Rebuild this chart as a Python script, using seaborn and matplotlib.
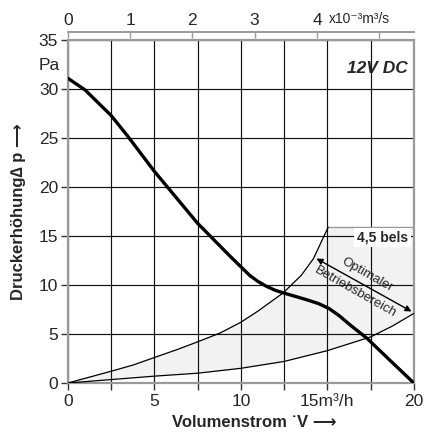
import numpy as np
import pandas as pd
import seaborn as sns
import matplotlib.pyplot as plt

# Kennlinie des Lüfters (m3/h -> Pa)
fan_q = [0, 1, 2.5, 3.5, 5, 7.5, 9.4, 10.5, 11, 11.5, 12, 12.45, 13.8, 14.5, 15.1, 15.7,
         16.3, 17.3, 18.6, 20]
fan_p = [31.1, 29.9, 27.3, 25.1, 21.6, 16.3, 12.9, 11.0, 10.35, 9.85, 9.45, 9.2, 8.5, 8.1,
         7.6, 6.85, 5.95, 4.55, 2.35, 0]

# Grenzen des optimalen Betriebsbereichs
upper_q = [0, 2.5, 3.8, 5, 6.3, 7.5, 8.8, 10, 11, 12.45, 13.5, 14.2, 14.65, 15.05]
upper_p = [0, 1.2, 1.85, 2.6, 3.4, 4.2, 5.1, 6.2, 7.35, 9.2, 11.0, 12.7, 14.4, 15.9]
lower_q = [0, 2.5, 5, 7.5, 10, 12.5, 15, 17.5, 18.75, 20]
lower_p = [0, 0.35, 0.7, 1.0, 1.5, 2.2, 3.3, 4.7, 5.8, 7.1]
area_top = 15.95

x_ticks = [0, 5, 10, 15, 20]
x_labels = ['0', '5', '10', '15m³/h', '20']
x_minor = [2.5, 7.5, 12.5, 17.5]
y_ticks = [0, 5, 10, 15, 20, 25, 30, 35]
top_ticks = [0, 1, 2, 3, 4, 5]
top_labels = ['0', '1', '2', '3', '4', '']

sns.set_style('white')
plt.rcParams['font.family'] = ['Liberation Sans', 'DejaVu Sans']

fig = plt.figure(figsize=(4.24, 4.32), dpi=100)
ax = fig.add_axes([0.160, 0.1134, 0.816, 0.794])

spine_gray = '#9a9a9a'

# shaded area between the two limit curves
poly_q = lower_q + [20] + upper_q[::-1]
poly_p = lower_p + [area_top] + upper_p[::-1]
ax.fill(poly_q, poly_p, color='#f2f2f2', lw=0, zorder=0)
ax.plot([15.05, 20], [area_top, area_top], color=spine_gray, lw=1, zorder=1)

ax.set_xlim(0, 20)
ax.set_ylim(0, 35)
ax.set_xticks(x_ticks)
ax.set_xticklabels(x_labels)
ax.set_xticks(x_minor, minor=True)
ax.set_yticks(y_ticks)

ax.grid(True, which='both', color='#111111', lw=0.85, zorder=1)
ax.set_axisbelow(True)
# a few grid lines are lighter in the original
for t in ax.xaxis.get_minor_ticks():
    if abs(t.get_loc() - 2.5) < 0.01:
        t.gridline.set_color(spine_gray)
for t in ax.yaxis.get_major_ticks():
    if abs(t.get_loc() - 5) < 0.01:
        t.gridline.set_color(spine_gray)

df_up = pd.DataFrame({'q': upper_q, 'p': upper_p})
df_lo = pd.DataFrame({'q': lower_q, 'p': lower_p})
df_fan = pd.DataFrame({'q': fan_q, 'p': fan_p})
sns.lineplot(data=df_up, x='q', y='p', ax=ax, color='black', lw=0.9, sort=False, zorder=3)
sns.lineplot(data=df_lo, x='q', y='p', ax=ax, color='black', lw=0.9, sort=False, zorder=3)
sns.lineplot(data=df_fan, x='q', y='p', ax=ax, color='black', lw=2.4, sort=False, zorder=4)

for s in ax.spines.values():
    s.set_visible(True)
    s.set_color(spine_gray)
    s.set_linewidth(1.6)

ax.tick_params(which='both', direction='out', length=5, width=1, color='#333333',
               labelsize=12.5, pad=2, bottom=True, left=True)
ax.tick_params(axis='x', pad=3)

# obere Achse in 10^-3 m3/s
sec = ax.secondary_xaxis(1.022, functions=(lambda q: q / 3.6, lambda s: s * 3.6))
sec.set_xticks(top_ticks)
sec.set_xticklabels(top_labels)
sec.tick_params(direction='in', length=4, width=1, color=spine_gray, labelsize=12.5, pad=3)
sec.spines['top'].set_color(spine_gray)
sec.spines['top'].set_linewidth(1.4)
ax.text(15.1, 1.062, 'x10⁻³m³/s', transform=ax.get_xaxis_transform(), fontsize=10,
        ha='left', va='center')

ax.text(-0.45, 32.4, 'Pa', fontsize=12.5, ha='right', va='center')
ax.text(19.65, 32.1, '12V DC', fontsize=12.5, fontweight='bold', fontstyle='italic',
        ha='right', va='center')

ax.text(18.2, 14.85, '4,5 bels', fontsize=10, fontweight='bold', ha='center', va='center',
        bbox=dict(facecolor='white', edgecolor='none', pad=2), zorder=5)

ax.annotate('', xy=(14.37, 12.7), xytext=(19.87, 7.3),
            arrowprops=dict(arrowstyle='<|-|>', lw=1, color='black', mutation_scale=9,
                            shrinkA=0, shrinkB=0), zorder=5)
ax.text(17.3, 11.0, 'Optimaler', fontsize=9.5, rotation=-29.5, ha='center', va='center',
        rotation_mode='anchor', zorder=5)
ax.text(16.6, 9.3, 'Betriebsbereich', fontsize=9.5, rotation=-29.5, ha='center', va='center',
        rotation_mode='anchor', zorder=5)

ax.set_xlabel('Volumenstrom ˙V ⟶', fontsize=12, fontweight='bold')
ax.xaxis.set_label_coords(0.54, -0.092)
ax.set_ylabel('Druckerhöhung∆ p ⟶', fontsize=12, fontweight='bold')
ax.yaxis.set_label_coords(-0.12, 0.5)

fig.savefig('out.png', dpi=100)
